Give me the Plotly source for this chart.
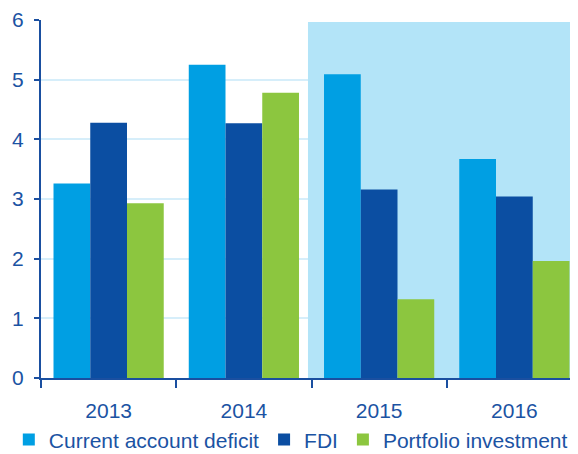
import plotly.graph_objects as go

years = ["2013", "2014", "2015", "2016"]
current_account_deficit = [3.26, 5.25, 5.09, 3.67]
fdi = [4.28, 4.27, 3.16, 3.04]
portfolio_investment = [2.93, 4.78, 1.32, 1.96]
y_ticks = [0, 1, 2, 3, 4, 5, 6]

TEXT = "#1b53a3"
AXIS = "#1a4fa0"
FONT = "Liberation Sans, Arial, sans-serif"

fig = go.Figure()
fig.add_trace(go.Bar(x=years, y=current_account_deficit, name="Current account deficit",
                     marker=dict(color="#009fe3", line=dict(width=0))))
fig.add_trace(go.Bar(x=years, y=fdi, name="FDI",
                     marker=dict(color="#0b4ea2", line=dict(width=0))))
fig.add_trace(go.Bar(x=years, y=portfolio_investment, name="Portfolio investment",
                     marker=dict(color="#8cc63f", line=dict(width=0))))

fig.add_shape(type="rect", xref="x", yref="y", x0=1.474, x1=3.5, y0=0, y1=5.965,
              fillcolor="#b3e4f8", line=dict(width=0), layer="between")

# the page body has an 8px margin; the figure is sized/offset to compensate
fig.update_layout(
    width=578, height=446,
    margin=dict(l=33, r=4, t=12, b=76, autoexpand=False),
    paper_bgcolor="white", plot_bgcolor="white",
    barmode="group", bargap=0.185, bargroupgap=0,
    font=dict(family=FONT, size=21, color=TEXT),
    showlegend=True,
    legend=dict(orientation="h", x=-0.0595, xanchor="left", y=-0.173, yanchor="middle",
                font=dict(size=21, color=TEXT), itemwidth=30, traceorder="normal",
                bgcolor="rgba(0,0,0,0)"),
    xaxis=dict(range=[-0.5, 3.5], showgrid=False, showline=True, linecolor=AXIS,
               linewidth=2, ticks="outside", tickson="boundaries", ticklen=8,
               tickwidth=2, tickcolor=AXIS, tickfont=dict(size=21, color=TEXT),
               ticklabelstandoff=13, automargin=False, fixedrange=True),
    yaxis=dict(range=[0, 6], tickvals=y_ticks, showgrid=True, gridcolor="#d6eefa",
               gridwidth=1.5, showline=True, linecolor=AXIS, linewidth=2,
               ticks="outside", ticklen=5, tickwidth=2, tickcolor=AXIS,
               tickfont=dict(size=21, color=TEXT), ticklabelstandoff=6,
               zeroline=False, automargin=False, fixedrange=True),
)

fig.write_html("out.html")
